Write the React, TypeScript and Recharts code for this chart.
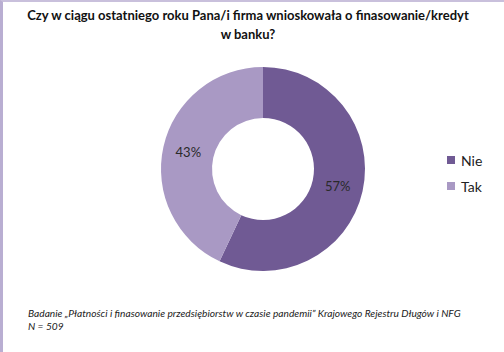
import { PieChart, Pie, Cell, Legend } from "recharts";

const categories = ["Nie", "Tak"];
const shares = [57, 43];
const colors = ["#705a94", "#a999c4"];

const title = "Czy w ciągu ostatniego roku Pana/i firma wnioskowała o finasowanie/kredyt w banku?";
const source =
  "Badanie „Płatności i finasowanie przedsiębiorstw w czasie pandemii” Krajowego Rejestru Długów i NFG";
const sampleNote = "N = 509";

const data = categories.map((name, i) => ({ name, value: shares[i] }));

const RADIAN = Math.PI / 180;

function renderLabel(props: any) {
  const { cx, cy, midAngle, innerRadius, outerRadius, value } = props;
  const r = (innerRadius + outerRadius) / 2;
  const x = cx + r * Math.cos(-midAngle * RADIAN);
  const y = cy + r * Math.sin(-midAngle * RADIAN);
  return (
    <text
      x={x}
      y={y}
      fill="#2a2a2a"
      fontSize={13}
      fontFamily="Lato, 'Open Sans', sans-serif"
      textAnchor="middle"
      dominantBaseline="central"
    >
      {`${value}%`}
    </text>
  );
}

function LegendBox() {
  return (
    <div style={{ fontFamily: "Lato, 'Open Sans', sans-serif", fontSize: 14, color: "#222" }}>
      {data.map((d, i) => (
        <div key={d.name} style={{ display: "flex", alignItems: "center", height: 26 }}>
          <span
            style={{ width: 8, height: 8, background: colors[i], display: "inline-block", marginRight: 6 }}
          />
          {d.name}
        </div>
      ))}
    </div>
  );
}

export default function App() {
  return (
    <div
      style={{
        position: "absolute",
        left: 0,
        top: 0,
        width: 504,
        height: 352,
        background: "#fff",
        borderLeft: "3px solid #b9aed2",
        borderTop: "2px solid #c9c0dc",
        boxSizing: "border-box",
        overflow: "hidden",
      }}
    >
      <div
        style={{
          position: "absolute",
          left: 20,
          width: 450,
          top: 4,
          textAlign: "center",
          fontFamily: "Lato, 'Open Sans', sans-serif",
          fontWeight: "bold",
          fontSize: 13,
          lineHeight: "19px",
          color: "#111",
        }}
      >
        {title}
      </div>
      <div style={{ position: "absolute", left: -3, top: -2 }}>
        <PieChart width={504} height={352} margin={{ top: 0, right: 0, bottom: 0, left: 0 }}>
          <Pie
            data={data}
            dataKey="value"
            nameKey="name"
            cx={263}
            cy={169}
            innerRadius={51}
            outerRadius={102}
            startAngle={90}
            endAngle={-270}
            stroke="none"
            label={renderLabel}
            labelLine={false}
            isAnimationActive={false}
          >
            {data.map((d, i) => (
              <Cell key={d.name} fill={colors[i]} />
            ))}
          </Pie>
          <Legend content={<LegendBox />} wrapperStyle={{ left: 447, top: 147, width: 57 }} />
        </PieChart>
      </div>
      <div
        style={{
          position: "absolute",
          left: 25,
          top: 305,
          fontFamily: "Lato, 'Open Sans', sans-serif",
          fontStyle: "italic",
          fontSize: 10.2,
          lineHeight: "13px",
          color: "#222",
        }}
      >
        <div>{source}</div>
        <div>{sampleNote}</div>
      </div>
    </div>
  );
}
